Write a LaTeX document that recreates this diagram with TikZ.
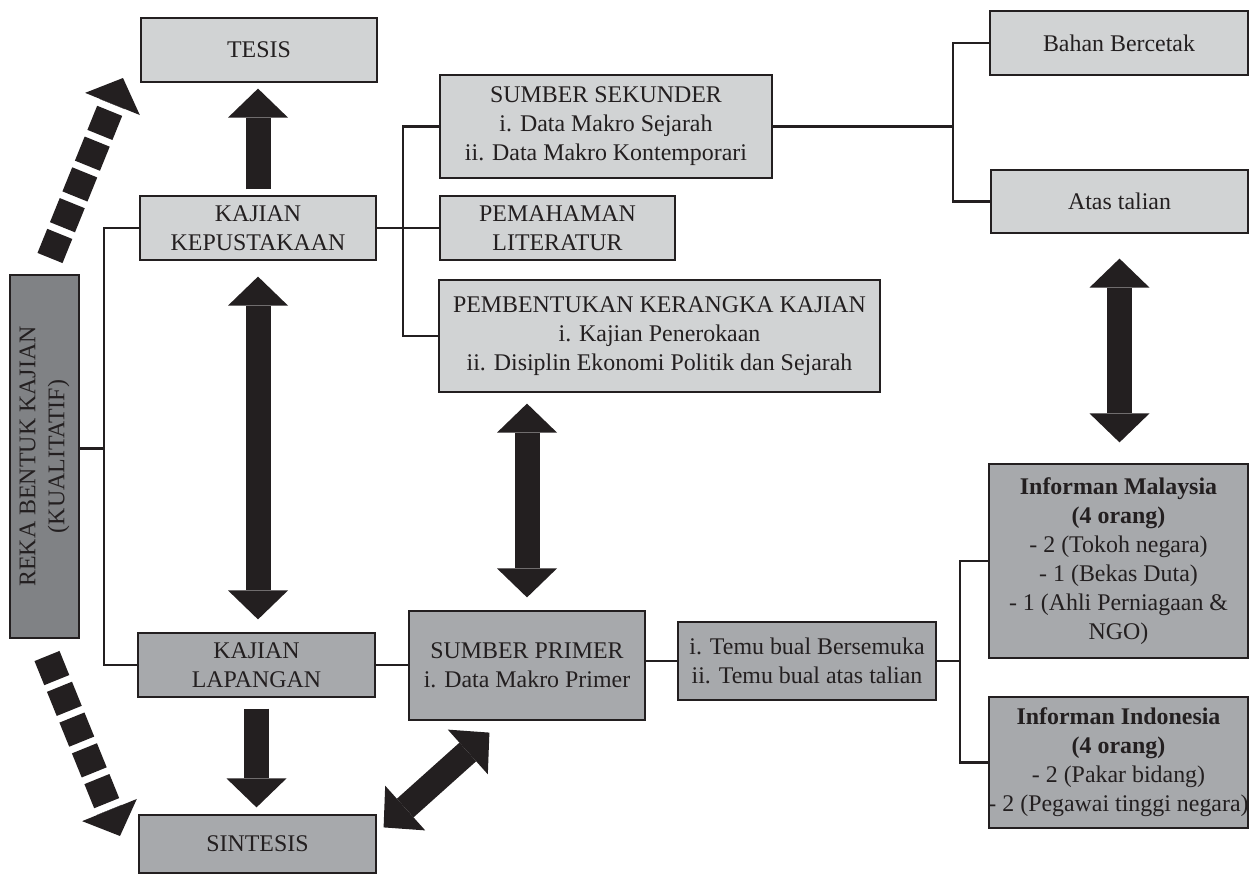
\documentclass[tikz,border=0pt]{standalone}
\usepackage{fontspec}
\setmainfont{Liberation Serif}
\usetikzlibrary{arrows.meta,calc}
\definecolor{lightbox}{HTML}{D1D3D4}
\definecolor{midbox}{HTML}{A7A9AC}
\definecolor{darkbox}{HTML}{808285}
\definecolor{ink}{HTML}{231F20}
\begin{document}
\begin{tikzpicture}[x=1pt,y=-1pt,
  box/.style={draw=ink, line width=1.2pt, inner sep=0pt, align=center, text=ink,
              font=\fontsize{23.9}{29}\selectfont},
  lbox/.style={box, fill=lightbox},
  mbox/.style={box, fill=midbox},
  dbox/.style={box, fill=darkbox},
  conn/.style={draw=ink, line width=2.3pt},
  bigone/.style={draw=ink, line width=25pt, -{Triangle[width=60pt,length=29pt,line width=0pt]}},
  bigtwo/.style={draw=ink, line width=25pt, {Triangle[width=60pt,length=29pt,line width=0pt]}-{Triangle[width=60pt,length=29pt,line width=0pt]}},
  dasharrow/.style={draw=ink, line width=27pt, dash pattern=on 26pt off 7.2pt, -{Triangle[width=59pt,length=28pt,line width=0pt]}}
]
\useasboundingbox (0,0) rectangle (1249,875);

% boxes
\node[lbox, minimum width=236pt, minimum height=64pt] (tesis) at (259,50) {TESIS};
\node[lbox, minimum width=236pt, minimum height=64pt] (kep) at (258,228) {KAJIAN\\KEPUSTAKAAN};
\node[mbox, minimum width=237pt, minimum height=64pt] (lap) at (256.5,665) {KAJIAN\\LAPANGAN};
\node[mbox, minimum width=237pt, minimum height=58pt] (sin) at (257.5,844) {SINTESIS};
\node[dbox, rotate=90, minimum width=363pt, minimum height=69pt] (reka) at (44.5,456.5) {REKA BENTUK KAJIAN\\(KUALITATIF)};
\node[lbox, minimum width=332pt, minimum height=103pt] (sek) at (606,126.5) {SUMBER SEKUNDER\\i. Data Makro Sejarah\\ii. Data Makro Kontemporari};
\node[lbox, minimum width=235pt, minimum height=64pt] (pem) at (557.5,228) {PEMAHAMAN\\LITERATUR};
\node[lbox, minimum width=441pt, minimum height=112pt] (pemb) at (659.5,336) {PEMBENTUKAN KERANGKA KAJIAN\\i. Kajian Penerokaan\\ii. Disiplin Ekonomi Politik dan Sejarah};
\node[mbox, minimum width=236pt, minimum height=109pt] (primer) at (527,665.5) {SUMBER PRIMER\\i. Data Makro Primer};
\node[mbox, minimum width=258pt, minimum height=78pt] (temu) at (807,661) {i. Temu bual Bersemuka\\ii. Temu bual atas talian};
\node[lbox, minimum width=258pt, minimum height=64pt] (bahan) at (1119,43) {Bahan Bercetak};
\node[lbox, minimum width=257pt, minimum height=63pt] (atas) at (1119.5,201.5) {Atas talian};
\node[mbox, minimum width=259pt, minimum height=194pt] (mal) at (1118.5,561) {\textbf{Informan Malaysia}\\\textbf{(4 orang)}\\- 2 (Tokoh negara)\\- 1 (Bekas Duta)\\- 1 (Ahli Perniagaan \&\\NGO)};
\node[mbox, minimum width=259pt, minimum height=131pt] (indo) at (1118.5,762.5) {\textbf{Informan Indonesia}\\\textbf{(4 orang)}\\- 2 (Pakar bidang)\\\makebox[0pt][c]{- 2 (Pegawai tinggi negara)}};

% bus coordinates
\coordinate (busA) at (104,0);
\coordinate (busB) at (403,0);
\coordinate (busC) at (953,0);
\coordinate (busD) at (960,0);
\coordinate (rekaOut) at ($(reka.south)+(0,-8)$);

% connectors
\draw[conn] (rekaOut) -- (rekaOut -| busA);
\draw[conn] (kep.west) -- (kep.west -| busA) -- (lap.west -| busA) -- (lap.west);
\draw[conn] (kep.east) -- (kep.east -| busB);
\draw[conn] (sek.west) -- (sek.west -| busB) -- (pemb.west -| busB) -- (pemb.west);
\draw[conn] (pem.west) -- (pem.west -| busB);
\draw[conn] (sek.east) -- (sek.east -| busC);
\draw[conn] (bahan.west) -- (bahan.west -| busC) -- (atas.west -| busC) -- (atas.west);
\draw[conn] (lap.east) -- (lap.east -| primer.west);
\draw[conn] (temu.west -| primer.east) -- (temu.west);
\draw[conn] (temu.east) -- (temu.east -| busD);
\draw[conn] (mal.west) -- (mal.west -| busD) -- (indo.west -| busD) -- (indo.west);

% thick arrows
\draw[bigone] ($(kep.north)+(0,-6)$) -- ($(kep.north |- tesis.south)+(0,6)$);
\draw[bigtwo] ($(kep.south)+(0,16)$) -- ($(kep.south |- lap.north)+(0,-13)$);
\draw[bigone] ($(lap.south)+(0,11)$) -- ($(lap.south |- sin.north)+(0,-7)$);
\draw[bigtwo] ($(primer.north |- pemb.south)+(0,11)$) -- ($(primer.north)+(0,-13)$);
\draw[bigtwo] ($(atas.south)+(0,25)$) -- ($(atas.south |- mal.north)+(0,-21)$);
\coordinate (dgA) at ($(sin.north east)+(7,13)$);
\coordinate (dgB) at ($(primer.south west)+(81,12)$);
\draw[bigtwo] (dgA) -- (dgB);

% dashed arrows
\coordinate (dtS) at (50,258);
\coordinate (dtE) at (123,78);
\coordinate (dbS) at (47,656);
\coordinate (dbE) at (120,836);
\draw[dasharrow] (dtS) -- (dtE);
\draw[dasharrow] (dbS) -- (dbE);
\end{tikzpicture}
\end{document}
